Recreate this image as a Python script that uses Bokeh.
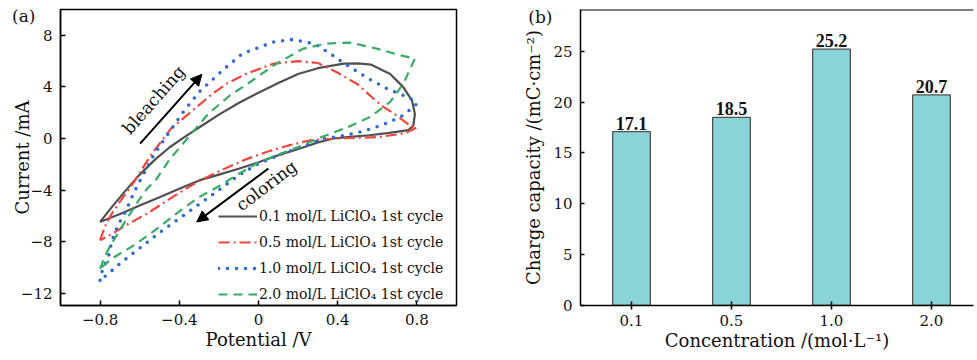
from bokeh.plotting import figure
from bokeh.layouts import row
from bokeh.models import Range1d, FixedTicker, Arrow, NormalHead, Label, Span, LinearAxis
from bokeh.embed import file_html
from bokeh.resources import INLINE
from bokeh.core.properties import value

FONT = "DejaVu Serif"

# ---------------- Panel (a): cyclic voltammograms ----------------
series_labels = ["0.1 mol/L LiClO\u2084 1st cycle", "0.5 mol/L LiClO\u2084 1st cycle",
                 "1.0 mol/L LiClO\u2084 1st cycle", "2.0 mol/L LiClO\u2084 1st cycle"]

v01 = [-0.80, -0.74, -0.68, -0.60, -0.52, -0.45, -0.38, -0.30, -0.20, -0.10, 0.00, 0.10, 0.20, 0.30, 0.43, 0.50,
       0.57, 0.665, 0.73, 0.775, 0.79, 0.782, 0.757, 0.66, 0.56, 0.46, 0.38, 0.30, 0.21, 0.10, 0.00, -0.10, -0.20,
       -0.30, -0.40, -0.50, -0.60, -0.70, -0.80]
i01 = [-6.47, -5.30, -4.20, -2.80, -1.60, -0.70, 0.05, 0.85, 1.85, 2.75, 3.55, 4.30, 5.00, 5.45, 5.80, 5.82,
       5.72, 5.00, 4.00, 2.95, 1.90, 1.00, 0.65, 0.43, 0.25, 0.12, 0.00, -0.30, -0.78, -1.30, -1.85, -2.35, -2.80,
       -3.25, -3.90, -4.55, -5.20, -5.85, -6.47]

v05 = [-0.80, -0.775, -0.74, -0.70, -0.63, -0.54, -0.44, -0.35, -0.23, -0.16, -0.06, 0.075, 0.20, 0.30, 0.40,
       0.50, 0.58, 0.63, 0.68, 0.73, 0.77, 0.80, 0.74, 0.61, 0.50, 0.40, 0.26, 0.15, 0.04, -0.06, -0.19, -0.30,
       -0.40, -0.45, -0.56, -0.67, -0.74, -0.80]
i05 = [-7.90, -6.80, -5.80, -4.90, -3.40, -1.20, 0.80, 1.95, 3.50, 4.26, 5.03, 5.80, 6.00, 5.85, 5.10,
       4.20, 3.10, 2.45, 1.98, 1.40, 0.95, 0.85, 0.40, 0.12, 0.05, 0.00, -0.14, -0.55, -1.05, -1.60, -2.47, -3.30,
       -4.20, -4.70, -5.80, -6.73, -7.40, -7.90]

v10 = [-0.80, -0.79, -0.756, -0.74, -0.706, -0.68, -0.647, -0.61, -0.53, -0.455, -0.38, -0.30, -0.18, -0.08, 0.00,
       0.08, 0.17, 0.28, 0.35, 0.46, 0.56, 0.65, 0.73, 0.78, 0.80, 0.78, 0.72, 0.65, 0.58, 0.50, 0.42, 0.34, 0.26,
       0.18, 0.10, 0.00, -0.10, -0.20, -0.30, -0.40, -0.50, -0.60, -0.70, -0.76, -0.80]
i10 = [-11.0, -10.3, -9.05, -7.90, -6.60, -5.95, -4.80, -3.60, -1.30, 0.40, 2.05, 3.60, 5.30, 6.60, 7.05,
       7.50, 7.67, 7.36, 6.70, 5.55, 4.60, 3.85, 3.35, 3.00, 2.70, 2.40, 1.70, 1.20, 0.80, 0.45, 0.20, 0.00, -0.40,
       -0.85, -1.30, -1.95, -2.85, -4.00, -5.10, -6.20, -7.30, -8.50, -9.70, -10.50, -11.0]

v20 = [-0.80, -0.773, -0.748, -0.68, -0.605, -0.563, -0.52, -0.446, -0.345, -0.253, -0.143, -0.042, 0.09, 0.227,
       0.345, 0.463, 0.597, 0.715, 0.79, 0.732, 0.665, 0.564, 0.446, 0.378, 0.30, 0.227, 0.109, 0.00, -0.127, -0.20,
       -0.30, -0.40, -0.504, -0.62, -0.74, -0.80]
i20 = [-10.1, -9.05, -8.30, -6.60, -4.80, -3.90, -3.24, -1.56, 0.25, 1.93, 3.35, 4.38, 5.80, 6.97,
       7.36, 7.43, 6.97, 6.45, 6.20, 4.26, 2.83, 1.67, 0.85, 0.45, 0.00, -0.50, -1.20, -1.85, -3.00, -3.70,
       -4.55, -5.65, -6.90, -8.20, -9.30, -10.1]

xticks_a = [-0.8, -0.4, 0.0, 0.4, 0.8]
yticks_a = [-12, -8, -4, 0, 4, 8]

# annotation arrows (start/end in data units) and their texts
bleach_arrow = [-0.598, -0.4, -0.286, 4.97]
color_arrow = [0.05, -2.33, -0.312, -6.47]
bleach_text = [-0.53, 3.0]
color_text = [0.04, -3.65]

# ---------------- Panel (b): charge capacity ----------------
concentrations = ["0.1", "0.5", "1.0", "2.0"]
charge = [17.1, 18.5, 25.2, 20.7]
yticks_b = [0, 5, 10, 15, 20, 25]


def minus(v):
    s = ("%g" % v)
    return s.replace("-", "\u2212")


def style_axes(p):
    for ax in (p.xaxis[0], p.yaxis[0]):
        ax.major_label_text_font = FONT
        ax.major_label_text_font_size = "15px"
        ax.major_label_text_color = "#111111"
        ax.axis_label_text_font = FONT
        ax.axis_label_text_font_size = "18px"
        ax.axis_label_text_font_style = "normal"
        ax.axis_label_text_color = "#111111"
        ax.minor_tick_line_color = None
        ax.major_tick_line_color = "black"
        ax.major_tick_line_width = 1.5
        ax.axis_line_color = "black"
        ax.axis_line_width = 1.5
        ax.axis_label_standoff = 1


def tag_axis(y, text, standoff):
    # a panel letter drawn as the single tick label of an extra, line-less left axis
    return LinearAxis(ticker=FixedTicker(ticks=[y]), major_label_overrides={y: text},
                      axis_line_color=None, major_tick_line_color=None, minor_tick_line_color=None,
                      major_tick_in=0, major_tick_out=0, major_label_standoff=standoff,
                      major_label_text_font=FONT, major_label_text_font_size="17px",
                      major_label_text_color="#111111")


pa = figure(width=478, height=356, output_backend="svg", toolbar_location=None,
            x_range=Range1d(-1.0, 1.0), y_range=Range1d(-12.95, 10.0),
            min_border_left=60, min_border_right=22, min_border_top=9, min_border_bottom=51,
            background_fill_color="white", border_fill_color="white")
pa.grid.visible = False
pa.outline_line_color = "black"
pa.outline_line_width = 1.5
pa.outline_line_alpha = 1.0
style_axes(pa)
pa.xaxis.axis_label = "Potential /V"
pa.yaxis.axis_label = "Current /mA"
pa.xaxis.ticker = FixedTicker(ticks=xticks_a)
pa.yaxis.ticker = FixedTicker(ticks=yticks_a)
pa.xaxis.major_label_overrides = {t: minus(t) for t in xticks_a}
pa.yaxis.major_label_overrides = {t: minus(t) for t in yticks_a}
for ax in (pa.xaxis[0], pa.yaxis[0]):
    ax.major_tick_in = 5
    ax.major_tick_out = 0
pa.xaxis.major_label_standoff = 8
pa.yaxis.major_label_standoff = 8
pa.yaxis.axis_label_standoff = -15

pa.line(v01, i01, line_color="#505050", line_width=2.2, legend_label=series_labels[0])
pa.line(v05, i05, line_color="#f0463c", line_width=2.2, line_dash="11 4 2 4", legend_label=series_labels[1])
pa.line(v10, i10, line_color="#2d6bd0", line_width=3.6, line_dash="0 9", line_cap="round",
        legend_label=series_labels[2])
pa.line(v20, i20, line_color="#3aab67", line_width=2.2, line_dash="9 6", legend_label=series_labels[3])

lg = pa.legend[0]
lg.location = (158, 1)
lg.background_fill_alpha = 0
lg.border_line_alpha = 0
lg.padding = 0
lg.margin = 0
lg.spacing = 6
lg.glyph_width = 39
lg.glyph_height = 20
lg.label_height = 20
lg.label_standoff = 2
lg.label_text_font = FONT
lg.label_text_font_size = "14px"
lg.label_text_color = "#111111"

head = dict(size=11, fill_color="black", line_color="black")
pa.add_layout(Arrow(end=NormalHead(**head), x_start=bleach_arrow[0], y_start=bleach_arrow[1],
                    x_end=bleach_arrow[2], y_end=bleach_arrow[3], line_width=2, line_color="black"))
pa.add_layout(Arrow(end=NormalHead(**head), x_start=color_arrow[0], y_start=color_arrow[1],
                    x_end=color_arrow[2], y_end=color_arrow[3], line_width=2, line_color="black"))
pa.add_layout(Label(x=bleach_text[0], y=bleach_text[1], text="bleaching", angle=0.85,
                    text_align="center", text_baseline="middle", text_font=FONT,
                    text_font_size="17px", text_color="#111111"))
pa.add_layout(Label(x=color_text[0], y=color_text[1], text="coloring", angle=0.65,
                    text_align="center", text_baseline="middle", text_font=FONT,
                    text_font_size="17px", text_color="#111111"))
pa.add_layout(tag_axis(9.5, "(a)", -27), "left")

# ---------------- Panel (b) ----------------
xpos = list(range(len(concentrations)))
ytop_b = 29.1
pb = figure(width=497, height=356, output_backend="svg", toolbar_location=None,
            x_range=Range1d(-0.51, 3.42), y_range=Range1d(0, ytop_b),
            min_border_left=102, min_border_right=2, min_border_top=9, min_border_bottom=51,
            background_fill_color="white", border_fill_color="white")
pb.grid.visible = False
pb.outline_line_color = None
style_axes(pb)
pb.xaxis.axis_label = "Concentration /(mol\u00b7L\u207b\u00b9)"
pb.yaxis.axis_label = "Charge capacity /(mC\u00b7cm\u207b\u00b2)"
pb.xaxis.ticker = FixedTicker(ticks=xpos)
pb.xaxis.major_label_overrides = {i: c for i, c in zip(xpos, concentrations)}
pb.yaxis.ticker = FixedTicker(ticks=yticks_b)
pb.xaxis.major_tick_in = 4
pb.xaxis.major_tick_out = 4
pb.xaxis.major_label_standoff = 5
pb.yaxis.major_tick_in = 4
pb.yaxis.major_tick_out = 0
pb.yaxis.major_label_standoff = 8
pb.yaxis.axis_label_standoff = 6

pb.vbar(x=xpos, top=charge, width=0.377, fill_color="#8ad3d8", line_color="#4f4f4f", line_width=1.3)
pb.text(x=xpos, y=charge, text=["%.1f" % c for c in charge], text_align="center", text_baseline="bottom",
        y_offset=-2, text_font=value("Liberation Serif"), text_font_style="bold", text_font_size="18px",
        text_color="#111111")
pb.add_layout(Span(location=ytop_b, dimension="width", line_color="black", line_width=2))
pb.add_layout(tag_axis(28.4, "(b)", -32), "left")

layout = row(pa, pb)
open("out.html", "w").write(file_html(layout, INLINE))
